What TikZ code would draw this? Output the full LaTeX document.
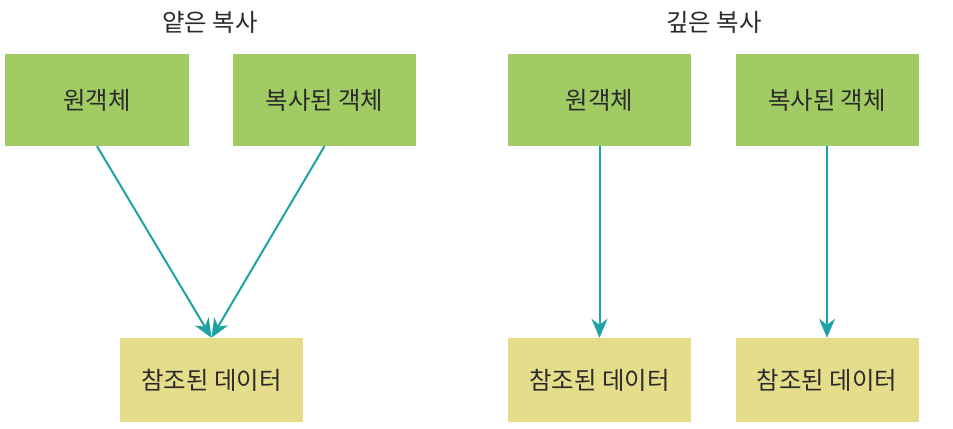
\documentclass[tikz,border=0pt]{standalone}
\usepackage{fontspec}
\newfontfamily\kr{Noto Sans CJK KR}
\usetikzlibrary{arrows.meta}
\definecolor{boxgreen}{HTML}{A0CC63}
\definecolor{boxyellow}{HTML}{E6DD8B}
\definecolor{arrowteal}{HTML}{1FA2A6}
\definecolor{txt}{HTML}{2B2B2B}
\tikzset{
  greenbox/.style={fill=boxgreen, draw=none, minimum width=183bp, minimum height=92bp, inner sep=0pt, font=\kr\fontsize{24.5}{28}\selectfont, text=txt},
  yellowbox/.style={fill=boxyellow, draw=none, minimum width=183bp, minimum height=84bp, inner sep=0pt, font=\kr\fontsize{24.5}{28}\selectfont, text=txt},
  titletext/.style={font=\kr\fontsize{24.5}{28}\selectfont, text=txt},
  link/.style={draw=arrowteal, line width=2bp, -{Stealth[length=19bp, width=16bp, inset=6bp]}}
}
\begin{document}
\begin{tikzpicture}[x=1bp, y=-1bp]
\useasboundingbox (0,0) rectangle (953,428);
\fill[white] (0,0) rectangle (953,428);
\node[titletext] (t1) at (210,22) {얕은 복사};
\node[titletext] (t2) at (714,22) {깊은 복사};
\node[greenbox] (g1) at (97,100) {원객체};
\node[greenbox] (g2) at (324.5,100) {복사된 객체};
\node[greenbox] (g3) at (599.5,100) {원객체};
\node[greenbox] (g4) at (827,100) {복사된 객체};
\node[yellowbox] (y1) at (211.5,380) {참조된 데이터};
\node[yellowbox] (y2) at (599.5,380) {참조된 데이터};
\node[yellowbox] (y3) at (827,380) {참조된 데이터};
\draw[link] (g1.south) -- (y1.north);
\draw[link] (g2.south) -- (y1.north);
\draw[link] (g3.south) -- (y2.north);
\draw[link] (g4.south) -- (y3.north);
\end{tikzpicture}
\end{document}
